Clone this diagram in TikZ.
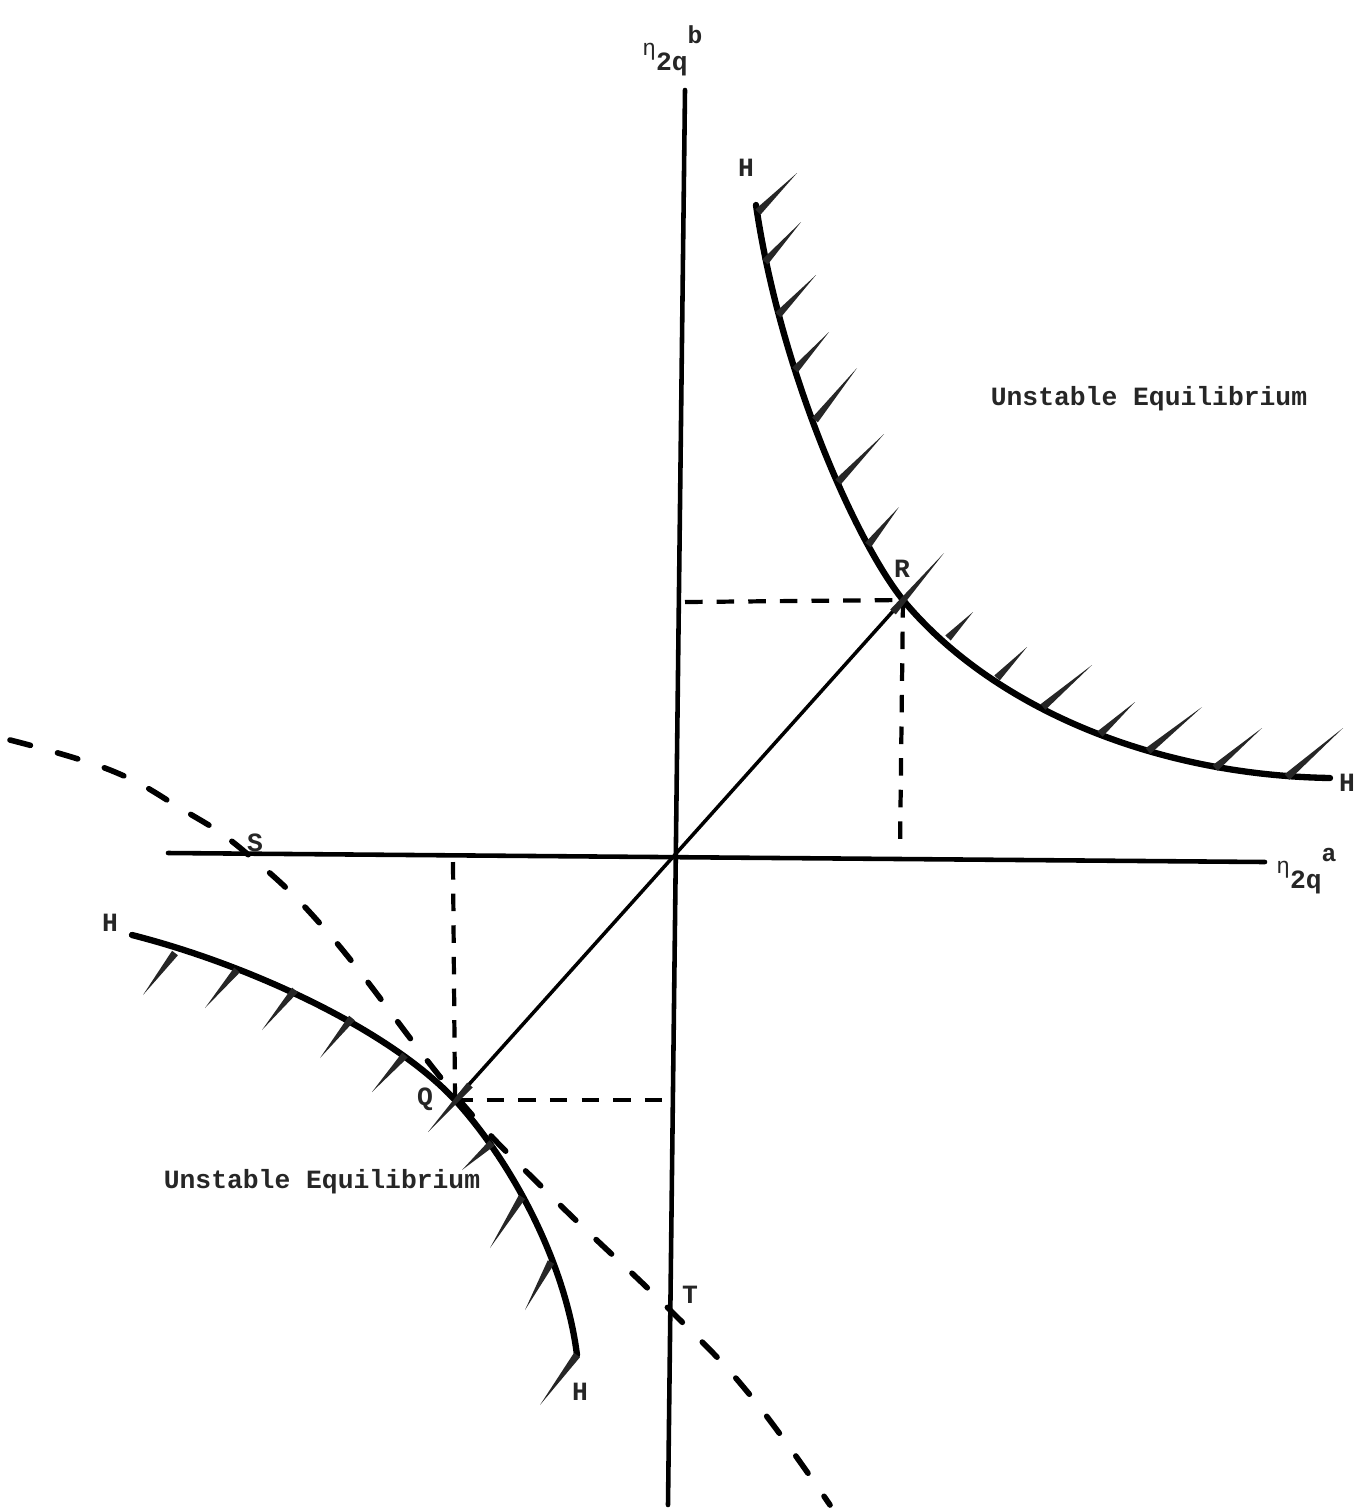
\documentclass[tikz,border=0pt]{standalone}
\usepackage{fontspec}
\setmainfont{Liberation Mono}
\usetikzlibrary{calc}
\tikzset{
  axis/.style={line width=2.6pt, line cap=round},
  hyp/.style={line width=3.6pt, line cap=round, line join=round},
  diag/.style={line width=2pt, line cap=round},
  proj/.style={line width=2.4pt, dash pattern=on 10pt off 8pt},
  dcurve/.style={line width=3.2pt, line cap=round, dash pattern=on 12pt off 16pt},
  lbl/.style={font=\bfseries\fontsize{15}{15}\selectfont, inner sep=0pt, text=black!85},
  hatchfill/.style={fill=black!85}
}
\newcommand{\hatchw}[2]{\fill[hatchfill] ($(#1)!2.1pt!90:(#2)$) -- (#2) -- ($(#1)!2.1pt!-90:(#2)$) -- cycle;}
\begin{document}
\begin{tikzpicture}[x=0.02cm,y=-0.02cm]
\useasboundingbox (0,0) rectangle (1355,1512);
\fill[white] (0,0) rectangle (1355,1512);
% axes
\coordinate (ytop) at (685,90);
\coordinate (ybot) at (668,1505);
\coordinate (xl) at (168,853);
\coordinate (xr) at (1265,862);
\coordinate (O) at (672,858);
\draw[axis] (ytop) -- (ybot);
\draw[axis] (xl) -- (xr);
% key points
\coordinate (R) at (903,600);
\coordinate (Q) at (455,1100);
\coordinate (Rx) at (900,850);
\coordinate (Ry) at (685,602);
\coordinate (Qx) at (453,862);
\coordinate (Qy) at (668,1100);
\coordinate (Hu1) at (756,205);
\coordinate (Hu2) at (1330,778);
\coordinate (Hl1) at (132,935);
\coordinate (Hl2) at (577,1355);
% diagonal through origin
\draw[diag] (Q) -- (O) -- (R);
% projections
\draw[proj] (Ry) -- (R);
\draw[proj] (R) -- (Rx);
\draw[proj] (Qx) -- (Q);
\draw[proj] (Q) -- (Qy);
% dashed curve
\draw[dcurve] plot[smooth, tension=0.7] coordinates {(10,740) (110,770) (180,808) (245,852) (330,935) (455,1095) (550,1195) (670,1310) (750,1395) (830,1505)};
% upper hyperbola
\draw[hyp] (Hu1) .. controls (780,370) and (855,540) .. (R)
                 .. controls (990,705) and (1150,775) .. (Hu2);
% lower hyperbola
\draw[hyp] (Hl1) .. controls (250,965) and (390,1030) .. (Q)
                 .. controls (510,1160) and (565,1260) .. (Hl2);
% hatches upper
\hatchw{758,212}{797,173}
\hatchw{765,262}{801,222}
\hatchw{778,315}{816,275}
\hatchw{795,370}{829,332}
\hatchw{815,420}{857,368}
\hatchw{838,482}{884,434}
\hatchw{868,545}{899,507}
\hatchw{893,612}{944,553}
\hatchw{948,638}{973,612}
\hatchw{997,678}{1027,647}
\hatchw{1043,707}{1092,665}
\hatchw{1100,734}{1135,702}
\hatchw{1148,751}{1202,707}
\hatchw{1215,768}{1262,728}
\hatchw{1287,777}{1343,728}
% hatches lower
\hatchw{175,953}{143,995}
\hatchw{237,970}{205,1008}
\hatchw{295,990}{262,1030}
\hatchw{352,1018}{320,1058}
\hatchw{405,1055}{372,1092}
\hatchw{470,1085}{428,1132}
\hatchw{492,1143}{462,1170}
\hatchw{522,1197}{490,1248}
\hatchw{551,1262}{525,1310}
\hatchw{577,1355}{540,1405}
% labels
\node[lbl] (Hur) at (746,168) {H};
\node[lbl] (Hr) at (1347,783) {H};
\node[lbl] (Hl) at (110,923) {H};
\node[lbl] (Hb) at (580,1392) {H};
\node[lbl] (Rl) at (902,569) {R};
\node[lbl] (Ql) at (425,1099) {Q};
\node[lbl] (Sl) at (255,843) {S};
\node[lbl] (Tl) at (690,1295) {T};
\node[lbl] (U1) at (1149,399) {Unstable Equilibrium};
\node[lbl] (U2) at (322,1182) {Unstable Equilibrium};
\node[lbl, anchor=base west] (eb) at (642,70) {\raisebox{8pt}{\fontsize{13}{13}\selectfont\mdseries η}2q\raisebox{15pt}{\fontsize{14}{14}\selectfont b}};
\node[lbl, anchor=base west] (ea) at (1276,888) {\raisebox{8pt}{\fontsize{13}{13}\selectfont\mdseries η}2q\raisebox{15pt}{\fontsize{14}{14}\selectfont a}};
\end{tikzpicture}
\end{document}
